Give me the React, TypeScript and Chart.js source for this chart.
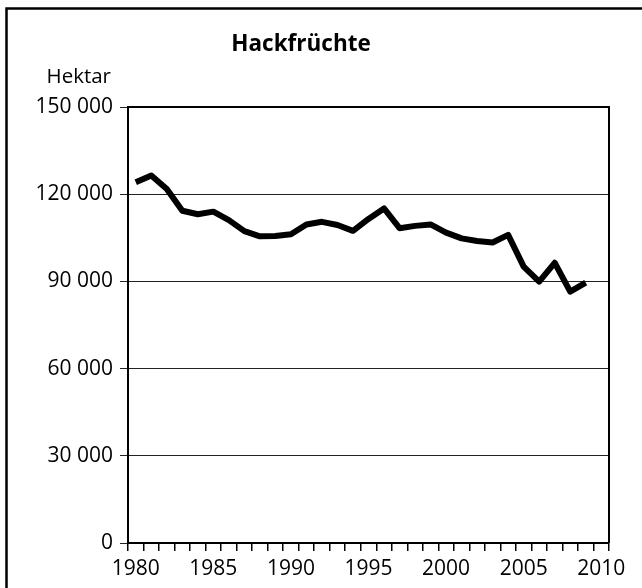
import React, { useEffect, useRef } from "react";
import { Chart, registerables } from "chart.js";

Chart.register(...registerables);

const TITLE = "Hackfrüchte";
const Y_UNIT = "Hektar";
const YEARS: string[] = [];
for (let y = 1980; y <= 2010; y++) YEARS.push(String(y));
const LABEL_YEARS = ["1980", "1985", "1990", "1995", "2000", "2005", "2010"];
const HECTARES = [
  124100, 126400, 121800, 114300, 113100, 114000, 111100, 107300, 105500, 105600,
  106200, 109600, 110500, 109400, 107400, 111500, 115100, 108300, 109100, 109600,
  106800, 104800, 103900, 103400, 106000, 95100, 89900, 96400, 86500, 89600,
];
const Y_MIN = 0;
const Y_MAX = 150000;
const Y_STEP = 30000;

const FONT = "'Open Sans', 'Noto Sans', sans-serif";

const fmt = (v: number) => String(v).replace(/\B(?=(\d{3})+(?!\d))/g, " ");

const decor = {
  id: "decor",
  beforeDraw(chart: any) {
    const ctx = chart.ctx;
    ctx.save();
    ctx.fillStyle = "#fff";
    ctx.fillRect(0, 0, chart.width, chart.height);
    ctx.strokeStyle = "#000";
    ctx.lineWidth = 2.5;
    ctx.strokeRect(6.5, 8.5, 2000, 2000);
    ctx.restore();
  },
  afterDraw(chart: any) {
    const ctx = chart.ctx;
    const a = chart.chartArea;
    ctx.save();
    ctx.strokeStyle = "#000";
    ctx.lineWidth = 2;
    ctx.beginPath();
    ctx.moveTo(a.left, a.top);
    ctx.lineTo(a.right, a.top);
    ctx.lineTo(a.right, a.bottom);
    ctx.stroke();
    ctx.fillStyle = "#000";
    ctx.textAlign = "center";
    ctx.textBaseline = "middle";
    ctx.font = `bold 22.5px ${FONT}`;
    ctx.fillText(TITLE, 301, 45);
    ctx.font = `20.5px ${FONT}`;
    ctx.textAlign = "right";
    ctx.fillText(Y_UNIT, 111, 77);
    ctx.restore();
  },
};

export default function App() {
  const ref = useRef<HTMLCanvasElement | null>(null);
  useEffect(() => {
    if (!ref.current) return;
    const chart = new Chart(ref.current, {
      type: "line",
      data: {
        labels: YEARS,
        datasets: [
          {
            data: HECTARES,
            borderColor: "#000",
            borderWidth: 6,
            pointRadius: 0,
            tension: 0,
            borderJoinStyle: "round",
            fill: false,
          },
        ],
      },
      options: {
        animation: false,
        responsive: false,
        layout: { padding: { top: 107, right: 33, left: 0, bottom: 0 } },
        plugins: { legend: { display: false }, tooltip: { enabled: false }, title: { display: false } },
        scales: {
          x: {
            type: "category",
            offset: true,
            afterFit: (s: any) => { s.height = 45; },
            grid: {
              offset: true,
              drawOnChartArea: false,
              drawTicks: true,
              tickLength: 8,
              color: "#000",
              lineWidth: 1.5,
            },
            border: { display: true, color: "#000", width: 2 },
            ticks: {
              autoSkip: false,
              maxRotation: 0,
              minRotation: 0,
              padding: 5,
              color: "#000",
              font: { family: FONT, size: 21 },
              callback: function (this: any, val: any, idx: number) {
                const lab = YEARS[idx];
                return LABEL_YEARS.includes(lab) ? lab : "";
              },
            },
          },
          y: {
            min: Y_MIN,
            max: Y_MAX,
            afterFit: (s: any) => { s.width = 128; },
            grid: {
              color: "#222",
              lineWidth: 1,
              tickLength: 8,
              drawTicks: true,
            },
            border: { display: true, color: "#000", width: 2 },
            ticks: {
              stepSize: Y_STEP,
              padding: 7,
              color: "#000",
              font: { family: FONT, size: 21 },
              callback: (v: any) => fmt(Number(v)),
            },
          },
        },
      },
      plugins: [decor],
    });
    return () => chart.destroy();
  }, []);
  return (
    <div style={{ position: "fixed", left: 0, top: 0, width: 642, height: 588, background: "#fff" }}>
      <canvas ref={ref} width={642} height={588} style={{ display: "block" }} />
    </div>
  );
}
